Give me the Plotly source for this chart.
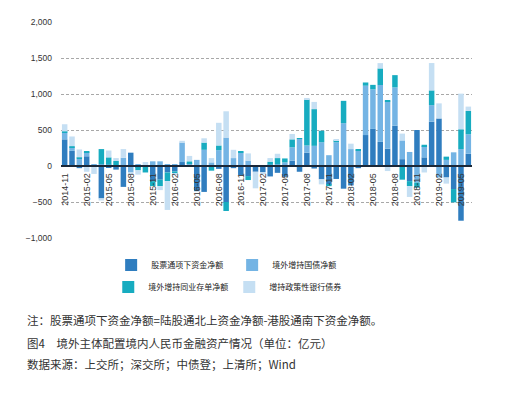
import plotly.graph_objects as go

months = ["2014-11", "2014-12", "2015-01", "2015-02", "2015-03", "2015-04", "2015-05", "2015-06",
          "2015-07", "2015-08", "2015-09", "2015-10", "2015-11", "2015-12", "2016-01", "2016-02",
          "2016-03", "2016-04", "2016-05", "2016-06", "2016-07", "2016-08", "2016-09", "2016-10",
          "2016-11", "2016-12", "2017-01", "2017-02", "2017-03", "2017-04", "2017-05", "2017-06",
          "2017-07", "2017-08", "2017-09", "2017-10", "2017-11", "2017-12", "2018-01", "2018-02",
          "2018-03", "2018-04", "2018-05", "2018-06", "2018-07", "2018-08", "2018-09", "2018-10",
          "2018-11", "2018-12", "2019-01", "2019-02", "2019-03", "2019-04", "2019-05", "2019-06"]

tick_labels = ["2014-11", "2015-02", "2015-05", "2015-08", "2015-11", "2016-02", "2016-05",
               "2016-08", "2016-11", "2017-02", "2017-05", "2017-08", "2017-11", "2018-02",
               "2018-05", "2018-08", "2018-11", "2019-02", "2019-05"]

stock_connect = [370, 210, -30, 135, 0, -450, -25, -50, -290, 185, -15, 0, -210, -190, -90, -75,
                 55, 0, -350, -360, 0, -40, -500, -30, -130, -140, -80, -85, -145, -95, -150, 75,
                 -80, 185, -35, -185, -260, -180, -315, -270, -30, 430, 515, 335, 240, 560, 95, -210,
                 500, 120, 615, 660, -160, -320, -760, 170]
gov_bonds = [95, 50, 100, 55, 25, 25, 20, 0, 115, -90, 20, 0, 65, 65, 20, 15,
             270, 40, 85, 225, 50, 220, 395, 110, 185, 75, 0, 0, 20, 25, 50, 185,
             375, 100, 280, 330, 150, 330, 595, 235, 215, 685, 550, 790, 655, 532, 260, 195,
             -230, 155, 230, -160, 85, 190, 235, 270]
ncds = [15, 15, 20, 15, 0, 210, 100, 70, 0, 0, -45, -90, -70, -90, -120, -35,
        0, 25, 0, 100, -65, 65, -125, 0, 15, -55, 0, 0, 40, 85, 55, 110,
        12, 640, 510, 160, -20, 30, 310, 0, 20, 45, 62, 230, 10, 170, -190, -70,
        -70, 20, 205, 0, 45, -185, 275, 325]
policy_bonds = [100, 135, 110, -80, -110, -30, 95, 40, 120, -30, -60, 55, 0, -55, -400, -15,
                25, 75, 0, 60, 60, 315, 365, 115, 0, 100, -230, -20, 50, 60, 0, 75,
                0, 20, 100, -70, 0, 15, 0, 75, 0, 0, 0, 74, -70, 0, 95, -150,
                0, -90, 380, 210, -85, 0, 495, 60]

series_names = ["股票通项下资金净额", "境外增持国债净额", "境外增持同业存单净额", "增持政策性银行债券"]
series_values = [stock_connect, gov_bonds, ncds, policy_bonds]
colors = ["#2f7dbf", "#74b4e4", "#17acc0", "#c5dff3"]
legend_ids = ["legend", "legend", "legend2", "legend2"]

fig = go.Figure()
for name, vals, color, lg in zip(series_names, series_values, colors, legend_ids):
    fig.add_trace(go.Bar(x=months, y=vals, name=name, legend=lg,
                         marker=dict(color=color, line=dict(width=0))))

legend_font = dict(family="Noto Sans CJK SC", size=8, color="#222")

fig.update_layout(
    barmode="relative",
    bargap=0.25,
    width=516, height=393,
    margin=dict(l=61, r=44, t=22, b=155),
    paper_bgcolor="white", plot_bgcolor="white",
    font=dict(family="Liberation Sans, Arial, sans-serif", size=8.5, color="#333"),
    xaxis=dict(type="category", tickmode="array", tickvals=tick_labels, ticktext=tick_labels,
               tickangle=-90, anchor="free", position=1 / 3, showgrid=False, automargin=False,
               showline=True, linecolor="#1b2838", linewidth=1.5, ticks="",
               tickfont=dict(size=9, color="#333"), ticklabelstandoff=3),
    yaxis=dict(range=[-1000, 2000], tickvals=[-1000, -500, 0, 500, 1000, 1500, 2000],
               tickformat=",", showgrid=True, gridcolor="#a8a8a8", griddash="3px,2px", automargin=False,
               gridwidth=0.8, zeroline=False, ticks="", ticklabelstandoff=8),
    legend=dict(orientation="h", x=0.122, y=-0.125, xanchor="left", yanchor="middle",
                font=legend_font, entrywidth=76, bgcolor="rgba(0,0,0,0)", traceorder="normal"),
    legend2=dict(orientation="h", x=0.115, y=-0.227, xanchor="left", yanchor="middle",
                 font=legend_font, entrywidth=76, bgcolor="rgba(0,0,0,0)", traceorder="normal"),
)

note_font = dict(family="Noto Sans CJK SC", size=11.5, color="#333")
notes = [
    ("注：股票通项下资金净额=陆股通北上资金净额-港股通南下资金净额。", 320),
    ("图4　境外主体配置境内人民币金融资产情况（单位：亿元）", 343),
    ("数据来源：上交所；深交所；中债登；上清所；Wind", 364),
]
for text, ypix in notes:
    fig.add_annotation(text=text, xref="paper", yref="paper",
                       x=(25 - 61) / 411, y=(238 - ypix) / 216,
                       xanchor="left", yanchor="middle", showarrow=False, font=note_font)

fig.write_html("out.html", config={"displayModeBar": False},
               post_script="document.body.style.margin='0px';")
